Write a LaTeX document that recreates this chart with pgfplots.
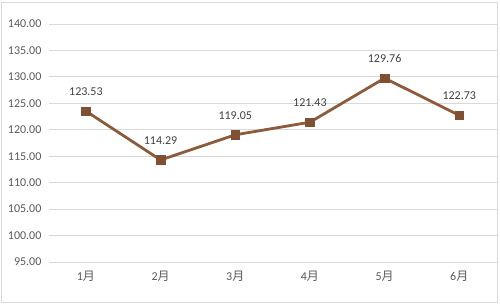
\documentclass[border=0pt]{standalone}
\usepackage{fontspec}
\setmainfont{Carlito}
\newfontfamily\cjk{Noto Sans CJK SC}
\usepackage{pgfplots}
\pgfplotsset{compat=1.18}
\definecolor{lineb}{RGB}{140,90,60}
\definecolor{markb}{RGB}{128,80,50}
\definecolor{tickc}{RGB}{89,89,89}
\definecolor{labc}{RGB}{64,64,64}
\definecolor{gridc}{RGB}{217,217,217}
\begin{document}
\begin{tikzpicture}[x=1bp,y=1bp]
\path (0,0) rectangle (500,304);
\draw[color=gridc, line width=0.9bp] (1.5,1.5) rectangle (497,302);
\begin{axis}[
  at={(48.6bp,42bp)}, anchor=south west,
  scale only axis, width=448bp, height=238bp,
  xmin=-0.5, xmax=5.5, ymin=95, ymax=140,
  xtick={0,1,2,3,4,5},
  xticklabels={1{\cjk 月},2{\cjk 月},3{\cjk 月},4{\cjk 月},5{\cjk 月},6{\cjk 月}},
  ytick={95,100,...,140},
  yticklabel style={/pgf/number format/fixed, /pgf/number format/fixed zerofill, /pgf/number format/precision=2, /pgf/number format/assume math mode=true,
    anchor=east, inner sep=0pt, xshift=-7bp, font=\fontsize{12bp}{14bp}\selectfont, text=tickc},
  xticklabel style={anchor=north, inner sep=0pt, yshift=-9bp, font=\fontsize{12bp}{14bp}\selectfont, text=tickc},
  major tick length=0pt,
  axis line style={draw=none},
  ymajorgrids, grid style={color=gridc, line width=0.9bp},
  clip=false,
  nodes near coords,
  nodes near coords style={/pgf/number format/fixed, /pgf/number format/fixed zerofill, /pgf/number format/precision=2, /pgf/number format/assume math mode=true,
    anchor=south, inner sep=0pt, yshift=15bp, font=\fontsize{12bp}{14bp}\selectfont, text=labc},
]
\addplot[color=lineb, line width=2.8bp, mark=square*, mark size=4.3bp, mark options={fill=markb, draw=markb, line width=0.5bp}]
coordinates {(0,123.53) (1,114.29) (2,119.05) (3,121.43) (4,129.76) (5,122.73)};
\end{axis}
\end{tikzpicture}
\end{document}
